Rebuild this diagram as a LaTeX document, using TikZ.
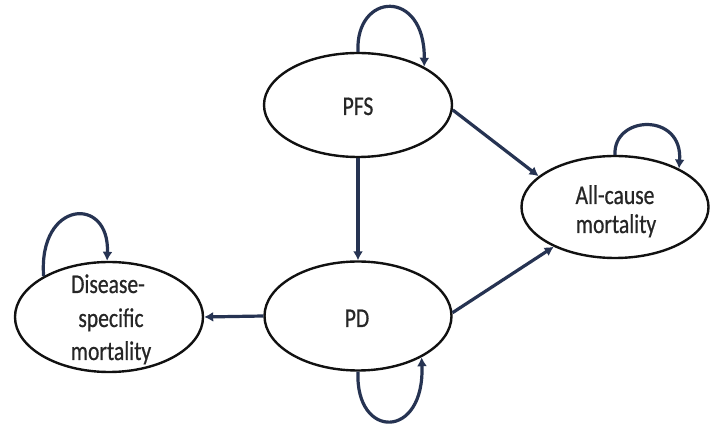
\documentclass[tikz,border=0pt]{standalone}
\usepackage{fontspec}
\setmainfont{Carlito}[FakeStretch=0.8,FakeBold=0.6]
\usetikzlibrary{shapes.geometric,arrows.meta}
\definecolor{navy}{HTML}{263352}
\definecolor{ink}{HTML}{111111}
\definecolor{txtc}{HTML}{262626}
\begin{document}
\begin{tikzpicture}[x=1pt,y=-1pt,
  state/.style={ellipse, draw=ink, line width=2.4pt, inner sep=0pt},
  lbl/.style={anchor=base, inner sep=0pt, text=txtc, font=\fontsize{27}{32}\selectfont},
  arr/.style={draw=navy, line width=3.2pt, -{Latex[length=9pt,width=10pt]}}]
\fill[white] (0,0) rectangle (718,427);
\useasboundingbox (0,0) rectangle (718,427);
% states
\node[state, minimum width=188pt, minimum height=104pt] (pfs) at (358,105) {};
\node[state, minimum width=187pt, minimum height=109pt] (pd) at (358,316) {};
\node[state, minimum width=188pt, minimum height=110pt] (dis) at (109,317) {};
\node[state, minimum width=187pt, minimum height=102pt] (all) at (615,207) {};
% labels
\node[lbl] (pfsT) at (358,115) {PFS};
\node[lbl] (pdT) at (357,327) {PD};
\node[lbl] (allA) at (615,204) {All-cause};
\node[lbl] (allB) at (616,233) {mortality};
\node[lbl] (disA) at (108,293) {Disease-};
\node[lbl] (disB) at (111,327) {specific};
\node[lbl] (disC) at (111,360) {mortality};
% transitions
\draw[arr] (pfs.south) -- (pd.north);
\draw[arr] (pfs.-3) -- (all.158);
\draw[arr] (pd.2) -- (all.213);
\draw[arr] (pd.west) -- (dis.east);
% self loops
\draw[arr] (pfs.north) .. controls (355,-8) and (425,-12) .. (pfs.30);
\draw[arr] (pd.south) .. controls (355,440) and (425,440) .. (pd.-33);
\draw[arr] (dis.148) .. controls (38,200) and (110,195) .. (dis.92);
\draw[arr] (all.north) .. controls (613,115) and (683,112) .. (all.31);
\end{tikzpicture}
\end{document}
